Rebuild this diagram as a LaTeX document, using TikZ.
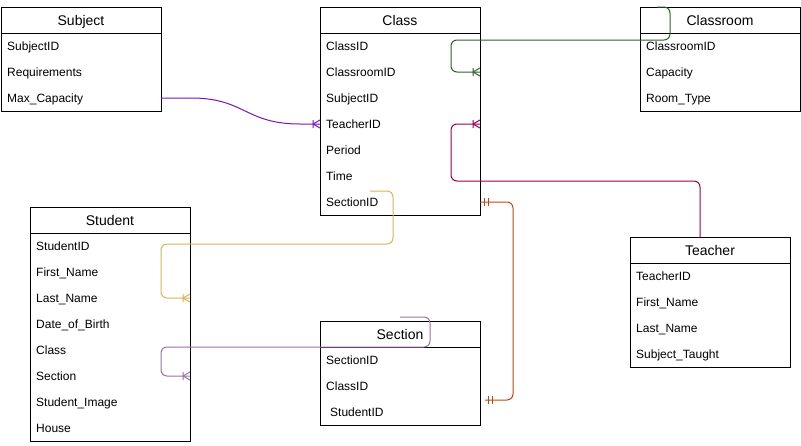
\documentclass[tikz,border=0pt]{standalone}
\usepackage{fontspec}
\setmainfont{Liberation Sans}
\definecolor{cgreen}{RGB}{40,100,40}
\definecolor{cmaroon}{RGB}{153,0,76}
\definecolor{cgold}{RGB}{214,182,86}
\definecolor{clav}{RGB}{150,115,166}
\definecolor{corange}{RGB}{190,70,20}
\definecolor{cviolet}{RGB}{120,20,190}
\begin{document}
\begin{tikzpicture}[x=1pt,y=-1pt,
  tbl/.style={draw=black, line width=1pt, rectangle, inner sep=0pt, outer sep=0pt, minimum width=160pt, anchor=north west},
  hdr/.style={font=\fontsize{14}{16}\selectfont, inner sep=0pt, text height=10pt, text depth=0pt},
  fld/.style={font=\fontsize{12}{14}\selectfont, inner sep=0pt, anchor=west, text height=8.6pt, text depth=0pt},
  conn/.style={line width=1pt, rounded corners=6pt},
  tipline/.style={line width=1pt}
]
\useasboundingbox[fill=white] (0,0) rectangle (801,445);

% ---------- Subject ----------
\node[tbl, minimum height=104pt] (subj) at (1,7) {};
\draw[line width=1pt] ([yshift=-26pt]subj.north west) -- ([yshift=-26pt]subj.north east);
\node[hdr] (subjT) at ([yshift=-13pt]subj.north) {Subject};
\node[fld] (subj1) at (7,46) {SubjectID};
\node[fld] (subj2) at (7,72) {Requirements};
\node[fld] (subj3) at (7,98) {Max\_Capacity};

% ---------- Class ----------
\node[tbl, minimum height=208pt] (class) at (320,7) {};
\draw[line width=1pt] ([yshift=-26pt]class.north west) -- ([yshift=-26pt]class.north east);
\node[hdr] (classT) at ([yshift=-13pt]class.north) {Class};
\node[fld] (class1) at (326,46) {ClassID};
\node[fld] (class2) at (326,72) {ClassroomID};
\node[fld] (class3) at (326,98) {SubjectID};
\node[fld] (class4) at (326,124) {TeacherID};
\node[fld] (class5) at (326,150) {Period};
\node[fld] (class6) at (326,176) {Time};
\node[fld] (class7) at (326,202) {SectionID};

% ---------- Classroom ----------
\node[tbl, minimum height=104pt] (room) at (640,7) {};
\draw[line width=1pt] ([yshift=-26pt]room.north west) -- ([yshift=-26pt]room.north east);
\node[hdr] (roomT) at ([yshift=-13pt]room.north) {Classroom};
\node[fld] (room1) at (646,46) {ClassroomID};
\node[fld] (room2) at (646,72) {Capacity};
\node[fld] (room3) at (646,98) {Room\_Type};

% ---------- Student ----------
\node[tbl, minimum height=234pt] (stud) at (30,207) {};
\draw[line width=1pt] ([yshift=-26pt]stud.north west) -- ([yshift=-26pt]stud.north east);
\node[hdr] (studT) at ([yshift=-13pt]stud.north) {Student};
\node[fld] (stud1) at (36,246) {StudentID};
\node[fld] (stud2) at (36,272) {First\_Name};
\node[fld] (stud3) at (36,298) {Last\_Name};
\node[fld] (stud4) at (36,324) {Date\_of\_Birth};
\node[fld] (stud5) at (36,350) {Class};
\node[fld] (stud6) at (36,376) {Section};
\node[fld] (stud7) at (36,402) {Student\_Image};
\node[fld] (stud8) at (36,428) {House};

% ---------- Section ----------
\node[tbl, minimum height=104pt] (sect) at (320,321) {};
\draw[line width=1pt] ([yshift=-26pt]sect.north west) -- ([yshift=-26pt]sect.north east);
\node[hdr] (sectT) at ([yshift=-13pt]sect.north) {Section};
\node[fld] (sect1) at (326,360) {SectionID};
\node[fld] (sect2) at (326,386) {ClassID};
\node[fld] (sect3) at (330,412) {StudentID};

% ---------- Teacher ----------
\node[tbl, minimum height=130pt] (teach) at (630,237) {};
\draw[line width=1pt] ([yshift=-26pt]teach.north west) -- ([yshift=-26pt]teach.north east);
\node[hdr] (teachT) at ([yshift=-13pt]teach.north) {Teacher};
\node[fld] (teach1) at (636,276) {TeacherID};
\node[fld] (teach2) at (636,302) {First\_Name};
\node[fld] (teach3) at (636,328) {Last\_Name};
\node[fld] (teach4) at (636,354) {Subject\_Taught};

% ---------- Connectors ----------
% Subject -> Class (violet)
\coordinate (vS) at (subj.east |- subj3.west);
\coordinate (vE) at (class.west |- class4.west);
\draw[line width=1pt, cviolet] (vS) -- ++(30,0) .. controls (245,98) and (245,124) .. (300,124) -- (vE);
\draw[tipline, cviolet] ([xshift=-7pt]vE) -- ++(7,-4) ([xshift=-7pt]vE) -- ++(7,4)
  ([xshift=-7pt,yshift=4pt]vE) -- ++(0,8);

% Classroom -> Class (green)
\coordinate (gS) at ([xshift=17pt]room.north west);
\coordinate (gE) at (class.east |- class2.west);
\draw[conn, cgreen] (gS) -- (670,7) -- (670,40) -- (451,40) -- (451,72) -- (gE);
\draw[tipline, cgreen] ([xshift=-7pt]gE) -- ++(7,-4) ([xshift=-7pt]gE) -- ++(7,4)
  ([xshift=-7pt,yshift=4pt]gE) -- ++(0,8);

% Teacher -> Class (maroon)
\coordinate (mS) at ([xshift=70pt]teach.north west);
\coordinate (mE) at (class.east |- class4.west);
\draw[conn, cmaroon] (mS) -- (700,181) -- (451,181) -- (451,124) -- (mE);
\draw[tipline, cmaroon] ([xshift=-7pt]mE) -- ++(7,-4) ([xshift=-7pt]mE) -- ++(7,4)
  ([xshift=-7pt,yshift=4pt]mE) -- ++(0,8);

% Class.SectionID -> Student.Last_Name (gold)
\coordinate (yS) at (370,191);
\coordinate (yE) at (stud.east |- stud3.west);
\draw[conn, cgold] (yS) -- (393,191) -- (393,244) -- (161,244) -- (161,298) -- (yE);
\draw[tipline, cgold] ([xshift=-7pt]yE) -- ++(7,-4) ([xshift=-7pt]yE) -- ++(7,4)
  ([xshift=-7pt,yshift=4pt]yE) -- ++(0,8);

% Section -> Student.Section (lavender)
\coordinate (lS) at (400,317);
\coordinate (lE) at (stud.east |- stud6.west);
\draw[conn, clav] (lS) -- (430,317) -- (430,347) -- (161,347) -- (161,376) -- (lE);
\draw[tipline, clav] ([xshift=-7pt]lE) -- ++(7,-4) ([xshift=-7pt]lE) -- ++(7,4)
  ([xshift=-7pt,yshift=4pt]lE) -- ++(0,8);

% Class.SectionID -- Section (orange, one-to-one)
\coordinate (oS) at (class.east |- class7.west);
\coordinate (oE) at ([xshift=5pt]sect.east |- 0,400);
\draw[conn, corange] (oS) -- (513,202) -- (513,400) -- (oE);
\draw[tipline, corange] ([xshift=4pt,yshift=4pt]oS) -- ++(0,8) ([xshift=8pt,yshift=4pt]oS) -- ++(0,8)
  ([xshift=3pt,yshift=4pt]oE) -- ++(0,8) ([xshift=7pt,yshift=4pt]oE) -- ++(0,8);
\end{tikzpicture}
\end{document}
